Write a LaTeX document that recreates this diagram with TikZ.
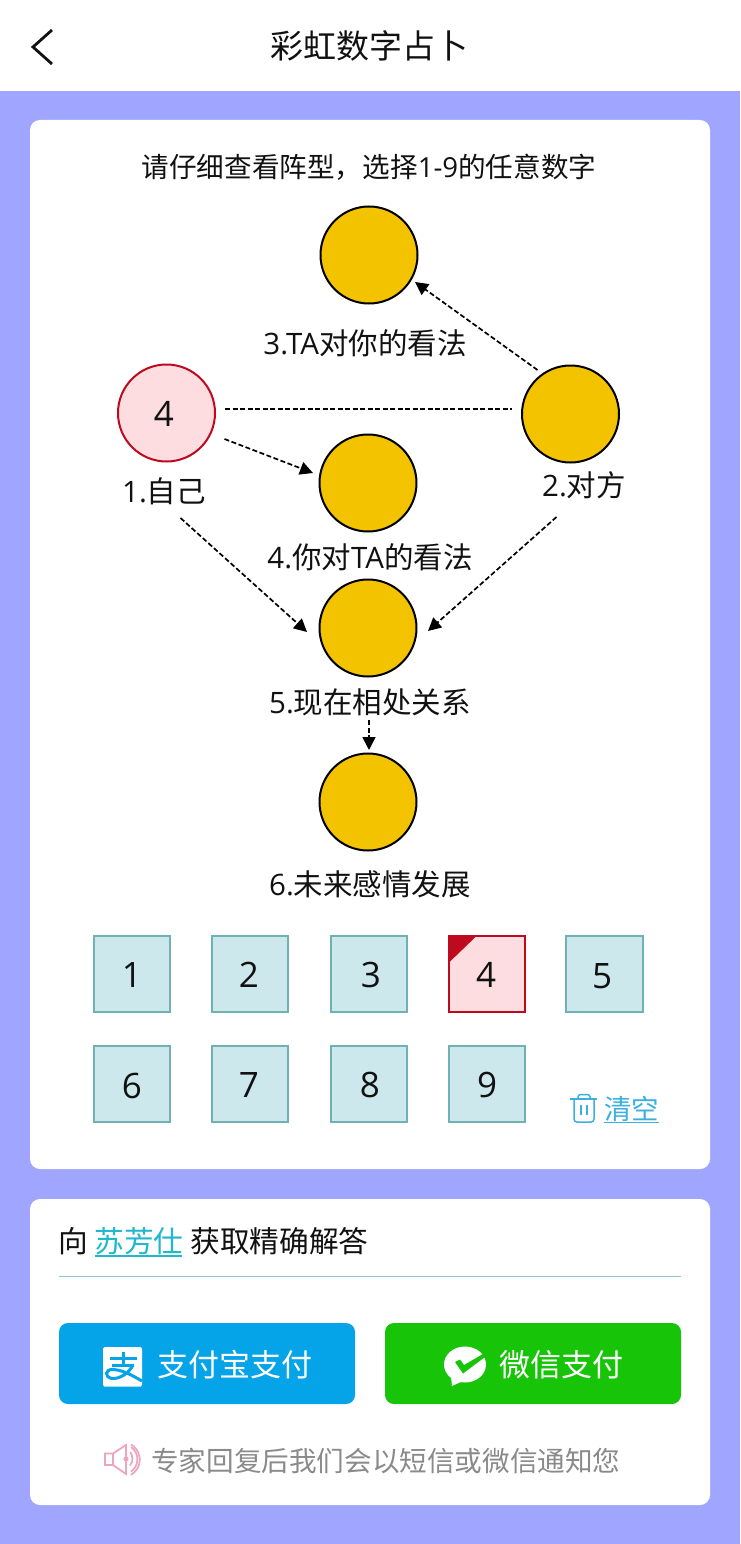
\documentclass[tikz,border=0pt]{standalone}
\usepackage{fontspec}
\setmainfont{Noto Sans CJK SC}
\newfontfamily\lat{Open Sans}
\usetikzlibrary{arrows.meta}
\newcommand\pxs[1]{\fontsize{#1}{#1}\selectfont}
\definecolor{bgblue}{HTML}{A0A6FF}
\definecolor{gold}{HTML}{F3C300}
\definecolor{tealfill}{HTML}{CCE8EC}
\definecolor{tealedge}{HTML}{70B2B4}
\definecolor{redfill}{HTML}{FDDDDF}
\definecolor{rededge}{HTML}{BE0A1E}
\definecolor{linkblue}{HTML}{3AAFE0}
\definecolor{linkteal}{HTML}{1FB8CC}
\definecolor{ruleteal}{HTML}{8CC6CE}
\definecolor{alipay}{HTML}{05A3E8}
\definecolor{wechat}{HTML}{18C408}
\definecolor{speaker}{HTML}{EEA4BF}
\definecolor{greytext}{HTML}{8A8A8A}
\definecolor{ink}{HTML}{111111}
\tikzset{
  card/.style={fill=white,rounded corners=10pt},
  disc/.style={circle,draw=black,fill=gold,line width=2pt,minimum size=97pt,inner sep=0pt,outer sep=0pt},
  discsel/.style={circle,draw=rededge,fill=redfill,line width=2pt,minimum size=97pt,inner sep=0pt,outer sep=0pt},
  lab/.style={inner sep=0pt,text=ink,font=\pxs{29.5}},
  numbox/.style={draw=tealedge,fill=tealfill,line width=2pt,minimum size=76.5pt,inner sep=0pt,outer sep=0pt},
  numsel/.style={draw=rededge,fill=redfill,line width=2pt,minimum size=76.5pt,inner sep=0pt,outer sep=0pt},
  digit/.style={inner sep=0pt,text=ink,font=\lat\pxs{35}},
  conn/.style={line width=1.7pt,dash pattern=on 5pt off 2.5pt},
  arrowconn/.style={conn,-{Triangle[length=13pt,width=13pt]}},
  paybtn/.style={rounded corners=9pt},
  paytext/.style={inner sep=0pt,text=white,font=\pxs{31}}
}
\begin{document}
\begin{tikzpicture}[x=1pt,y=-1pt]
\useasboundingbox (0,0) rectangle (740,1544);
\fill[bgblue] (0,0) rectangle (740,1544);
\fill[white] (0,0) rectangle (740,91);
\draw[ink,line width=2.8pt] (52,30) -- (33,47) -- (52,64);
\node[inner sep=0pt,text=ink,font=\pxs{33}] (title) at (369,46) {彩虹数字占卜};
\fill[card] (30,120) rectangle (710,1169);
\fill[card] (30,1199) rectangle (710,1505);
\node[inner sep=0pt,text=ink,font=\pxs{27.6}] (head) at (369,167) {请仔细查看阵型，选择{\lat 1-9}的任意数字};
% discs
\node[disc] (n3) at (369,255) {};
\node[discsel] (n1) at (166.5,413) {};
\node[digit] (d0) at (164,414) {4};
\node[disc] (n2) at (570.5,414) {};
\node[disc] (n4) at (368,483) {};
\node[disc] (n5) at (368,628) {};
\node[disc] (n6) at (368,802) {};
% labels
\node[lab] (l3) at (365,343) {{\lat 3.TA}对你的看法};
\node[lab] (l1) at (164,491) {{\lat 1.}自己};
\node[lab] (l2) at (584,485) {{\lat 2.}对方};
\node[lab] (l4) at (370,557) {{\lat 4.}你对{\lat TA}的看法};
\node[lab] (l5) at (370,702) {{\lat 5.}现在相处关系};
\node[lab] (l6) at (370,884) {{\lat 6.}未来感情发展};
% connectors
\draw[conn,line width=1.4pt] ([shift={(10,-4)}]n1.east) -- ([shift={(-10,-5)}]n2.west);
\draw[arrowconn] ([shift={(-33,-44)}]n2.center) -- ([shift={(46,27)}]n3.center);
\draw[arrowconn] ([shift={(58,26)}]n1.center) -- ([shift={(-55,-10)}]n4.center);
\draw[arrowconn] ([shift={(14,105)}]n1.center) -- ([shift={(-61,4)}]n5.center);
\draw[arrowconn] ([shift={(-14,103)}]n2.center) -- ([shift={(60,3)}]n5.center);
\draw[arrowconn] ([shift={(1,92)}]n5.center) -- ([shift={(1,-52)}]n6.center);
% number grid
\node[numbox] (b1) at (132,974) {};
\node[numbox] (b2) at (250,974) {};
\node[numbox] (b3) at (369,974) {};
\node[numsel] (b4) at (487,974) {};
\node[numbox] (b5) at (604.5,974) {};
\node[numbox] (b6) at (132,1084) {};
\node[numbox] (b7) at (250,1084) {};
\node[numbox] (b8) at (369,1084) {};
\node[numbox] (b9) at (487,1084) {};
\fill[rededge] (448.5,935.5) -- (477,935.5) -- (448.5,963) -- cycle;
\node[digit] (d1) at (132,975) {1};
\node[digit] (d2) at (249,975) {2};
\node[digit] (d3) at (371,975) {3};
\node[digit] (d4) at (486,975) {4};
\node[digit] (d5) at (602,976) {5};
\node[digit] (d6) at (132,1086) {6};
\node[digit] (d7) at (249,1085) {7};
\node[digit] (d8) at (370,1085) {8};
\node[digit] (d9) at (487,1085) {9};
% clear
\draw[linkblue,line width=1.5pt] (570,1099) -- (597,1099);
\draw[linkblue,line width=1.5pt,rounded corners=2.5pt] (578,1099) -- (578,1094.5) -- (590,1094.5) -- (590,1099);
\draw[linkblue,line width=1.5pt,rounded corners=3pt] (574,1099) -- (574,1122) -- (594,1122) -- (594,1099);
\draw[linkblue,line width=1.5pt] (581,1105) -- (581,1115) (587,1105) -- (587,1115);
\node[inner sep=0pt,text=linkblue,font=\pxs{27.5}] (clr) at (631.5,1108.5) {清空};
\draw[linkblue,line width=1.5pt] (604,1122.5) -- (659,1122.5);
% consult
\node[inner sep=0pt,anchor=west,text=ink,font=\pxs{29.7}] (ask) at (58,1241) {向 {\color{linkteal}苏芳仕} 获取精确解答};
\draw[linkteal,line width=1.5pt] (95,1256) -- (182,1256);
\draw[ruleteal,line width=1.3pt] (59,1276.5) -- (681,1276.5);
% buttons
\fill[alipay,paybtn] (59,1323) rectangle (355,1404);
\fill[wechat,paybtn] (385,1323) rectangle (681,1404);
\node[paytext] (pa) at (234.5,1365) {支付宝支付};
\node[paytext] (pw) at (561,1365) {微信支付};
% alipay icon
\fill[white,rounded corners=1.5pt] (103,1347) rectangle (142,1386.5);
\begin{scope}[alipay,line width=3pt]
\draw (110,1358) -- (137,1358);
\draw (123,1352) -- (123,1365);
\draw (112,1365) -- (134,1365);
\draw (133,1365) .. controls (129,1373) and (120,1379) .. (112,1378.5) .. controls (104,1377) and (105,1369) .. (113,1369.5) .. controls (122,1370) and (130,1374) .. (142,1381);
\end{scope}
% wechat icon
\fill[white] (465,1364.5) ellipse [x radius=21,y radius=18];
\fill[white] (451,1376) -- (452,1386) -- (463,1381) -- cycle;
\fill[wechat] (455,1362) -- (460,1359.5) -- (464,1365) -- (483,1354) -- (485,1357) -- (463,1373.5) -- cycle;
% speaker and note
\begin{scope}[speaker,line width=1.7pt]
\draw (105,1453.5) -- (113,1453.5) -- (126,1445) -- (126,1474) -- (113,1465) -- (105,1465) -- cycle;
\draw (113,1453.5) -- (113,1465);
\fill (126,1459) circle [radius=2.6];
\draw (130,1452) arc [start angle=-40,end angle=40,radius=10.5] ;
\draw (131,1447) arc [start angle=-55,end angle=55,radius=15];
\draw (131,1444.5) arc [start angle=-60,end angle=60,radius=17.5];
\end{scope}
\node[inner sep=0pt,anchor=west,text=greytext,font=\pxs{27.6}] (note) at (151,1461) {专家回复后我们会以短信或微信通知您};
\end{tikzpicture}
\end{document}
